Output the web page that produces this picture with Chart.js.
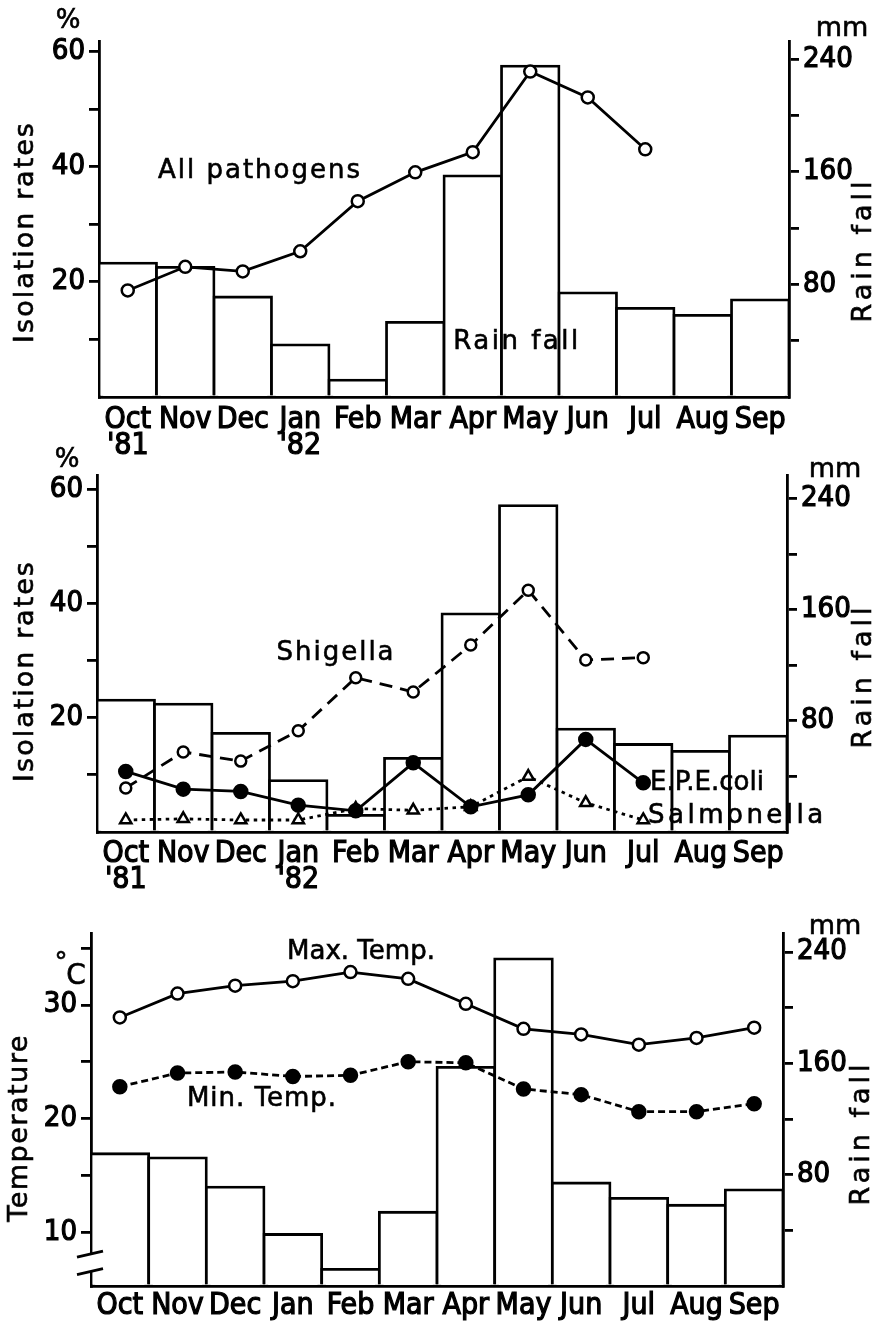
<!DOCTYPE html>
<html>
<head>
<meta charset="utf-8">
<script src="https://cdn.jsdelivr.net/npm/chart.js@4.4.0/dist/chart.umd.min.js"></script>
<style>
  html, body { margin: 0; padding: 0; background: #fff; }
  #page { position: relative; width: 877px; height: 1330px; overflow: hidden; background: #fff; }
  .panel { position: absolute; left: 0; width: 877px; }
</style>
</head>
<body>
<div id="page">
  <div class="panel" style="top:0;height:460px"><canvas id="c1"></canvas></div>
  <div class="panel" style="top:440px;height:460px"><canvas id="c2"></canvas></div>
  <div class="panel" style="top:885px;height:445px"><canvas id="c3"></canvas></div>
</div>
<script>
// months Oct '81 .. Sep '82
const months = ['Oct', 'Nov', 'Dec', 'Jan', 'Feb', 'Mar', 'Apr', 'May', 'Jun', 'Jul', 'Aug', 'Sep'];
const monthsWithYear = [['Oct', "'81"], 'Nov', 'Dec', ['Jan', "'82"], 'Feb', 'Mar', 'Apr', 'May', 'Jun', 'Jul', 'Aug', 'Sep'];

// rain fall, mm
const rainfall = [95, 92, 71, 37, 12, 53, 157, 235, 74, 63, 58, 69];

// isolation rates, %
const allPathogens = [18.5, 22.6, 21.8, 25.3, 34.0, 39.0, 42.5, 56.5, 52.0, 43.0, null, null];
const shigella = [7.7, 14.0, 12.4, 17.7, 27.0, 24.5, 32.7, 42.3, 30.1, 30.5, null, null];
const epeColi = [10.6, 7.5, 7.1, 4.7, 3.7, 12.1, 4.4, 6.5, 16.2, 8.6, null, null];
const salmonella = [2.1, 2.3, 2.1, 2.1, 4.1, 3.8, 4.4, 9.7, 5.1, 2.1, null, null];

// temperature, deg C
const maxTemp = [28.9, 31.0, 31.7, 32.1, 32.9, 32.3, 30.1, 27.9, 27.4, 26.5, 27.1, 28.0];
const minTemp = [22.8, 24.0, 24.1, 23.7, 23.8, 25.0, 24.9, 22.6, 22.1, 20.6, 20.6, 21.3];

// labelled ticks
const rateTicks = [20, 40, 60];
const tempTicks = [10, 20, 30];
const rainTicks = [80, 160, 240];

const INK = '#000';
const LW = 2.8;
const tickFont = { family: "'DejaVu Sans Condensed', 'Liberation Sans Narrow', 'Liberation Sans', sans-serif", size: 29 };
const noteFamily = "'DejaVu Sans', Verdana, sans-serif";

const valueAxis = (side, min, max, step, labelled, width) => ({
  type: 'linear',
  position: side,
  min: min,
  max: max,
  afterFit: (s) => { s.width = width; s.paddingTop = 0; s.paddingBottom = 0; },
  border: { display: true, color: INK, width: LW },
  grid: {
    drawOnChartArea: false,
    drawTicks: true,
    tickLength: 10,
    lineWidth: LW,
    color: (c) => (c.tick && c.tick.value > min ? INK : 'rgba(0,0,0,0)'),
  },
  ticks: {
    stepSize: step,
    includeBounds: false,
    autoSkip: false,
    padding: 4,
    color: INK,
    font: tickFont,
    textStrokeColor: INK,
    textStrokeWidth: 1.2,
    callback: (v) => (labelled.includes(v) ? String(v) : ''),
  },
});

const monthAxis = (height, pad) => ({
  type: 'category',
  offset: true,
  afterFit: (s) => { s.height = height; s.paddingLeft = 0; s.paddingRight = 0; },
  border: { display: true, color: INK, width: LW },
  grid: { display: false, drawTicks: false },
  ticks: {
    color: INK,
    font: { ...tickFont, size: 30, lineHeight: 0.88 },
    textStrokeColor: INK,
    textStrokeWidth: 1.2,
    padding: pad,
    maxRotation: 0,
    autoSkip: false,
  },
});

const rainBars = (axisId) => ({
  type: 'bar',
  data: rainfall,
  yAxisID: axisId,
  order: 2,
  backgroundColor: '#fff',
  borderColor: INK,
  borderWidth: LW,
  inflateAmount: LW / 2,
  categoryPercentage: 1,
  barPercentage: 1,
});

const series = (data, axisId, extra) => Object.assign({
  type: 'line',
  data: data,
  yAxisID: axisId,
  order: 1,
  borderColor: INK,
  borderWidth: LW,
  tension: 0,
  fill: false,
  pointRadius: 6,
  pointBorderWidth: 2.5,
  pointBackgroundColor: '#fff',
  pointBorderColor: INK,
}, extra);

// free text: axis titles, units and series names
const notesPlugin = {
  id: 'notes',
  afterDraw(chart, args, opts) {
    const ctx = chart.ctx;
    (opts.items || []).forEach((it) => {
      ctx.save();
      ctx.font = `${it.size || 26}px ${noteFamily}`;
      ctx.fillStyle = INK;
      ctx.strokeStyle = INK;
      ctx.lineWidth = 0.6;
      ctx.letterSpacing = (it.spacing || 0) + 'px';
      ctx.textAlign = it.align || 'center';
      ctx.textBaseline = 'middle';
      ctx.translate(it.x, it.y);
      if (it.rot) ctx.rotate(it.rot);
      ctx.fillText(it.text, 0, 0);
      ctx.strokeText(it.text, 0, 0);
      ctx.restore();
    });
  },
};

// broken temperature axis
const axisBreak = [8.05, 6.5];
const breakPlugin = {
  id: 'axisBreak',
  afterDraw(chart) {
    const ctx = chart.ctx;
    const s = chart.scales.y;
    const x0 = chart.chartArea.left;
    const yA = s.getPixelForValue(axisBreak[0]);
    const yB = s.getPixelForValue(axisBreak[1]);
    ctx.save();
    ctx.fillStyle = '#fff';
    ctx.fillRect(x0 - 3, yA, 6, yB - yA);
    ctx.strokeStyle = INK;
    ctx.lineWidth = LW;
    [yA, yB].forEach((y) => {
      ctx.beginPath();
      ctx.moveTo(x0 - 14, y + 3);
      ctx.lineTo(x0 + 12, y - 3);
      ctx.stroke();
    });
    ctx.restore();
  },
};

const UP = -Math.PI / 2;

const baseOptions = (padTop, scales, notes) => ({
  responsive: true,
  maintainAspectRatio: false,
  animation: false,
  events: [],
  layout: { padding: { top: padTop, left: 0, right: 0, bottom: 0 } },
  plugins: { legend: { display: false }, tooltip: { enabled: false }, notes: { items: notes } },
  scales: scales,
});

// panel 1: all pathogens
new Chart(document.getElementById('c1'), {
  data: {
    labels: monthsWithYear,
    datasets: [
      series(allPathogens, 'y', {}),
      rainBars('y2'),
    ],
  },
  options: baseOptions(41, {
    x: monthAxis(63, 10),
    y: valueAxis('left', 0, 61.8, 10, rateTicks, 99),
    y2: valueAxis('right', 0, 252.8, 40, rainTicks, 88),
  }, [
    { text: 'All pathogens', x: 260, y: 171, spacing: 2 },
    { text: 'Rain fall', x: 517, y: 342, spacing: 2.5 },
    { text: 'Isolation rates', x: 26, y: 232, size: 27, spacing: 2, rot: UP },
    { text: 'Rain fall', x: 864, y: 250, size: 27, spacing: 4, rot: UP },
    { text: '%', x: 68, y: 21 },
    { text: 'mm', x: 842, y: 29, size: 27 },
  ]),
  plugins: [notesPlugin],
});

// panel 2: shigella, E.P.E.coli, salmonella
new Chart(document.getElementById('c2'), {
  data: {
    labels: monthsWithYear,
    datasets: [
      series(shigella, 'y', { borderDash: [13, 8], pointRadius: 5.5 }),
      series(epeColi, 'y', { pointRadius: 6.5, pointBackgroundColor: INK }),
      series(salmonella, 'y', { borderDash: [3.5, 4.5], pointStyle: 'triangle', pointRadius: 6.5 }),
      rainBars('y2'),
    ],
  },
  options: baseOptions(35, {
    x: monthAxis(68, 9),
    y: valueAxis('left', 0, 62.45, 10, rateTicks, 97),
    y2: valueAxis('right', 0, 257, 40, rainTicks, 90),
  }, [
    { text: 'Shigella', x: 336, y: 213, spacing: 2 },
    { text: 'E.P.E.coli', x: 650, y: 343, align: 'left' },
    { text: 'Salmonella', x: 648, y: 376, align: 'left', spacing: 3.5 },
    { text: 'Isolation rates', x: 26, y: 231, size: 27, spacing: 2, rot: UP },
    { text: 'Rain fall', x: 864, y: 236, size: 27, spacing: 4, rot: UP },
    { text: '%', x: 67, y: 20 },
    { text: 'mm', x: 835, y: 30, size: 27 },
  ]),
  plugins: [notesPlugin],
});

// panel 3: temperature
new Chart(document.getElementById('c3'), {
  data: {
    labels: months,
    datasets: [
      series(maxTemp, 'y', {}),
      series(minTemp, 'y', { borderDash: [7, 4], pointRadius: 6.5, pointBackgroundColor: INK }),
      rainBars('y2'),
    ],
  },
  options: baseOptions(48, {
    x: monthAxis(44, 7),
    y: valueAxis('left', 5.24, 36.34, 5, tempTicks, 91),
    y2: valueAxis('right', 0, 253.6, 40, rainTicks, 94),
  }, [
    { text: 'Max. Temp.', x: 361, y: 67 },
    { text: 'Min. Temp.', x: 262, y: 214, spacing: 1 },
    { text: 'Temperature', x: 20, y: 243, size: 27, spacing: 1.5, rot: UP },
    { text: 'Rain fall', x: 862, y: 248, size: 27, spacing: 4, rot: UP },
    { text: 'mm', x: 835, y: 42, size: 27 },
    { text: '\u00b0', x: 61, y: 79 },
    { text: 'C', x: 76, y: 92, size: 28 },
  ]),
  plugins: [notesPlugin, breakPlugin],
});
</script>
</body>
</html>
